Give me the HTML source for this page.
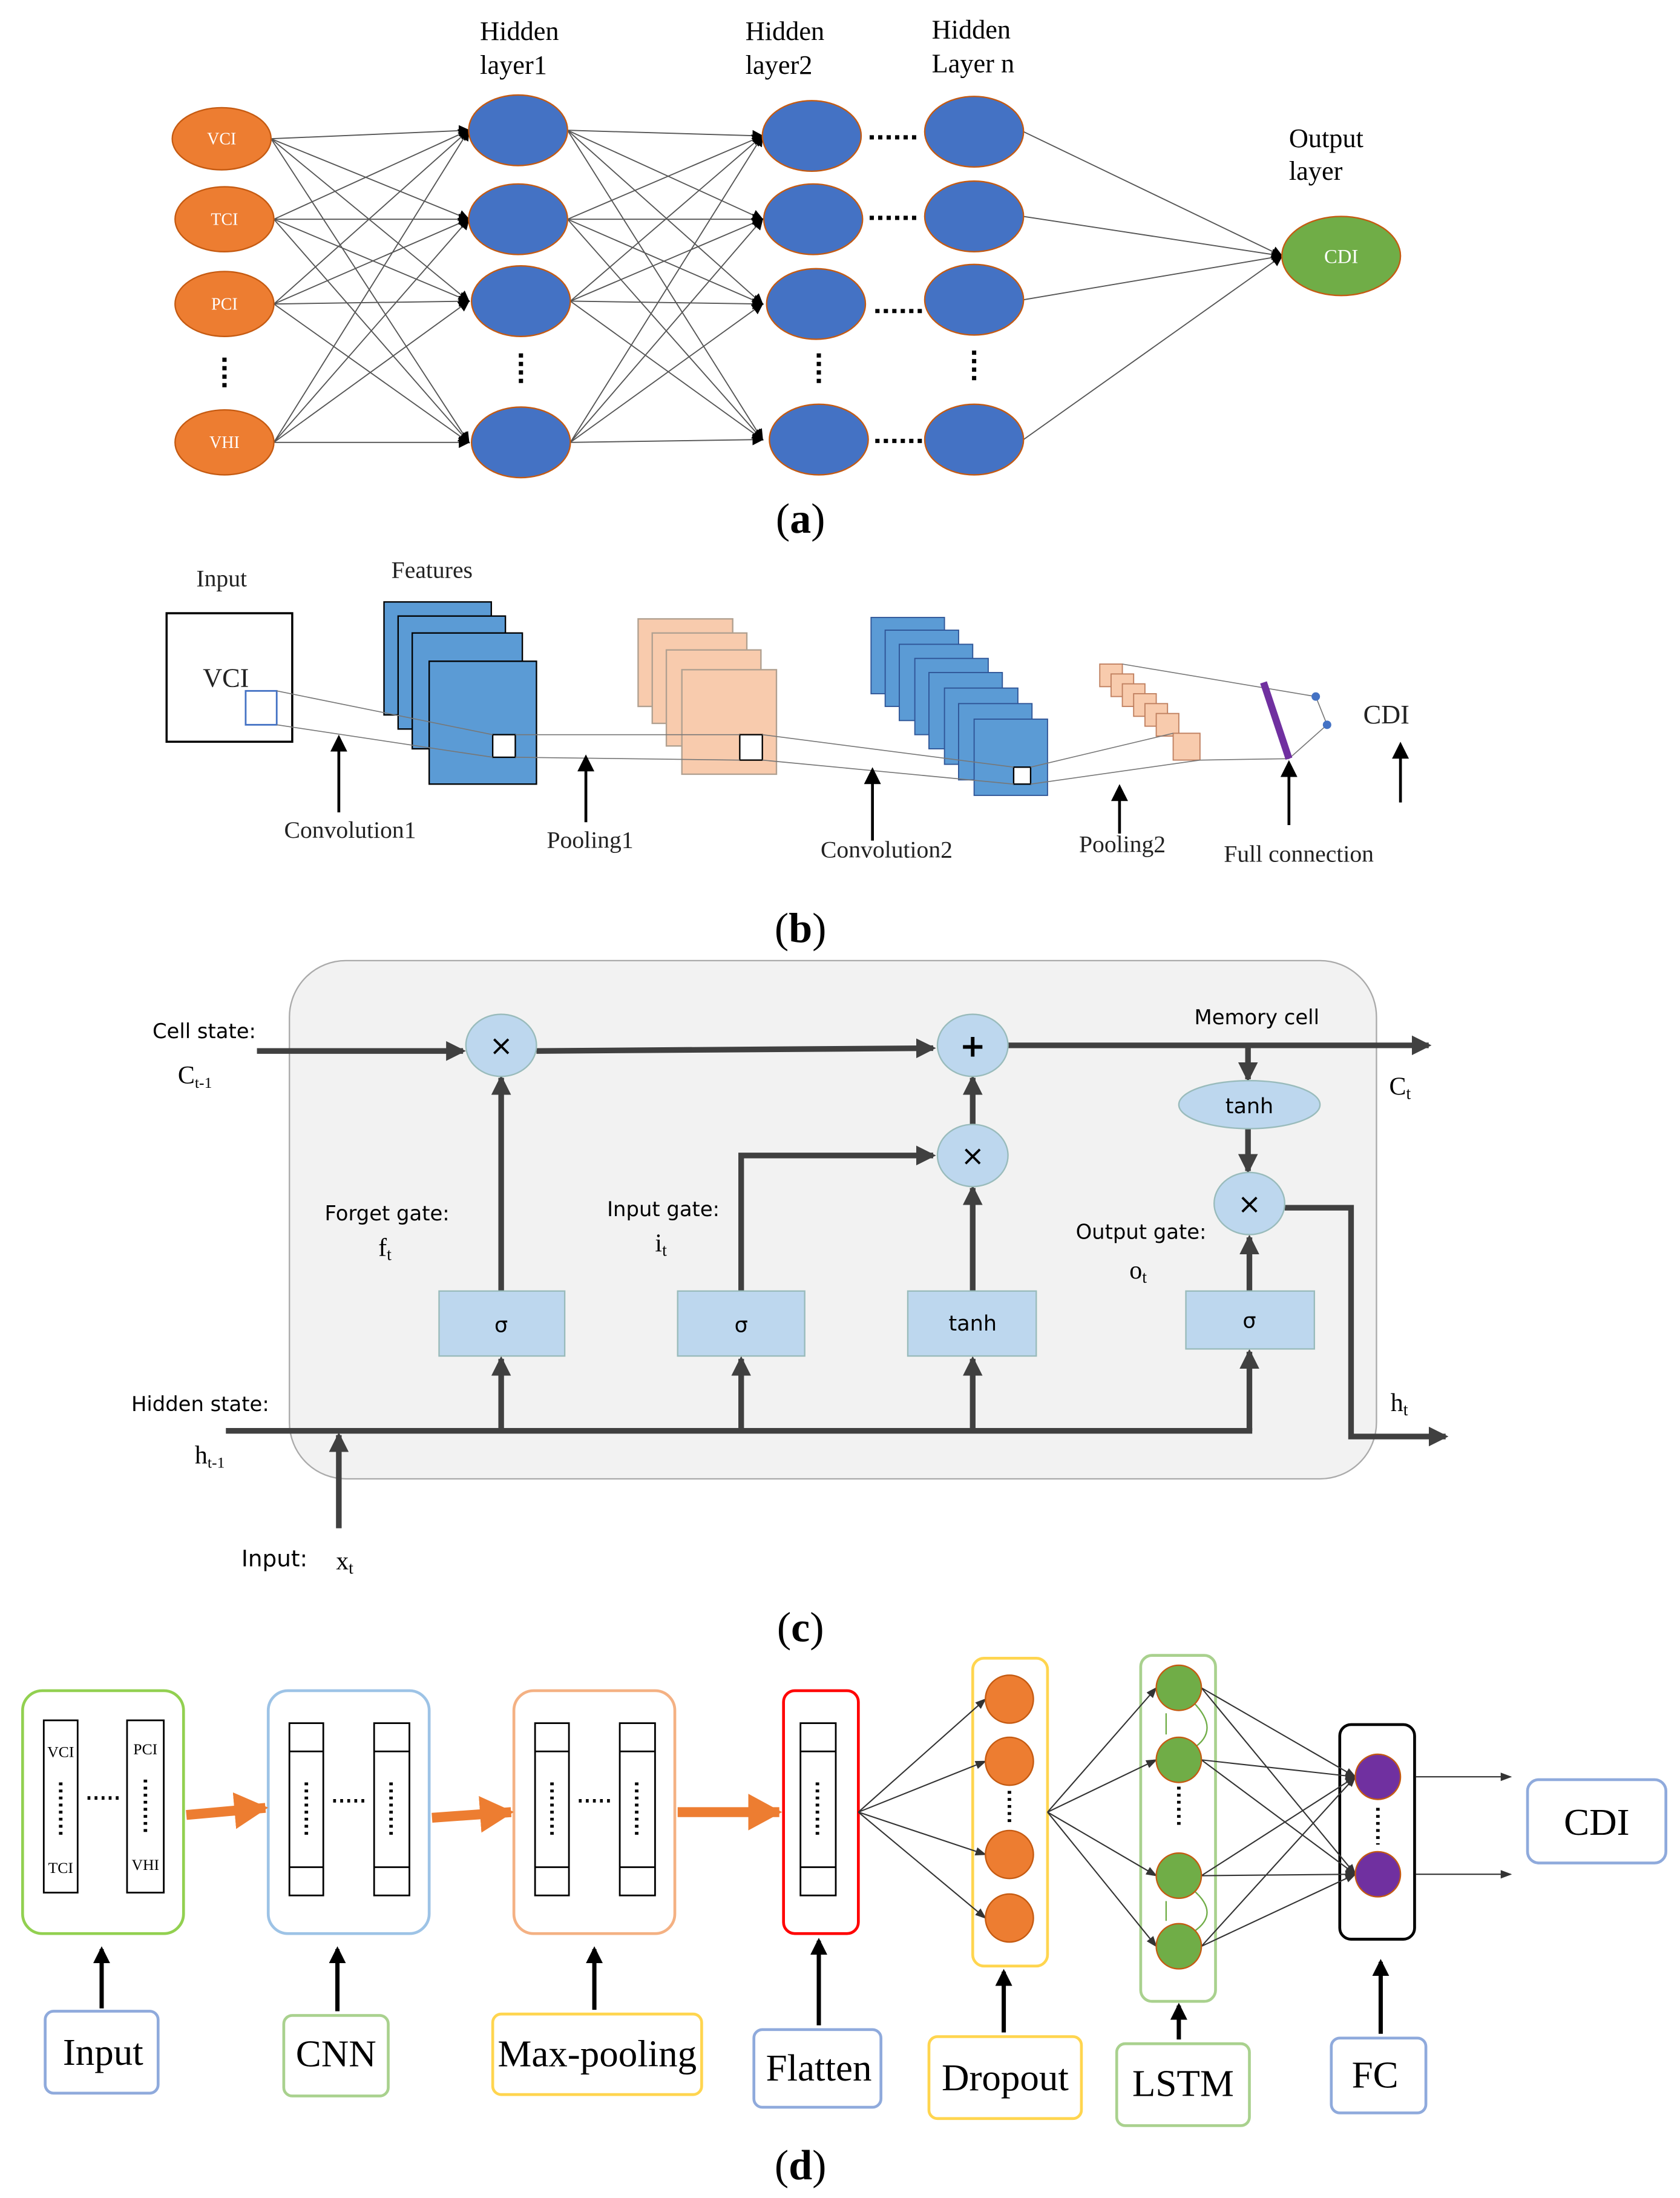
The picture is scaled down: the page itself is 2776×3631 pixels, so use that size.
<!DOCTYPE html>
<html><head><meta charset="utf-8"><style>
html,body{margin:0;padding:0;background:#fff;}
svg{display:block;}
</style></head><body>
<svg width="2776" height="3631" viewBox="0 0 1190 1556" xmlns="http://www.w3.org/2000/svg">
<defs>
<marker id="ah" markerWidth="8" markerHeight="8" refX="7" refY="4" orient="auto" markerUnits="userSpaceOnUse"><path d="M0,0 L8,4 L0,8 z" fill="#000"/></marker>
<marker id="ad" markerWidth="14" markerHeight="14" refX="12" refY="7" orient="auto" markerUnits="userSpaceOnUse"><path d="M0,0 L14,7 L0,14 z" fill="#404040"/></marker>
<marker id="ab" markerWidth="12" markerHeight="12" refX="10" refY="6" orient="auto" markerUnits="userSpaceOnUse"><path d="M0,0 L12,6 L0,12 z" fill="#000"/></marker>
<marker id="ao" markerWidth="26" markerHeight="26" refX="22" refY="13" orient="auto" markerUnits="userSpaceOnUse"><path d="M0,0 L24,13 L0,26 z" fill="#ed7d31"/></marker>
<marker id="as" markerWidth="8" markerHeight="8" refX="7" refY="4" orient="auto" markerUnits="userSpaceOnUse"><path d="M0,1 L8,4 L0,7 z" fill="#333"/></marker>
</defs>

<!-- ===== (a) ===== -->
<g stroke="#555" stroke-width="0.8" fill="none">
<!-- inputs (192) to H1 (332) -->
<g marker-end="url(#ah)">
<line x1="192" y1="98" x2="332" y2="92"/><line x1="192" y1="98" x2="332" y2="155"/><line x1="192" y1="98" x2="332" y2="213"/><line x1="192" y1="98" x2="332" y2="313"/>
<line x1="194" y1="155" x2="332" y2="92"/><line x1="194" y1="155" x2="332" y2="155"/><line x1="194" y1="155" x2="332" y2="213"/><line x1="194" y1="155" x2="332" y2="313"/>
<line x1="194" y1="215" x2="332" y2="92"/><line x1="194" y1="215" x2="332" y2="155"/><line x1="194" y1="215" x2="332" y2="213"/><line x1="194" y1="215" x2="332" y2="313"/>
<line x1="194" y1="313" x2="332" y2="92"/><line x1="194" y1="313" x2="332" y2="155"/><line x1="194" y1="313" x2="332" y2="213"/><line x1="194" y1="313" x2="332" y2="313"/>
<!-- H1 (402) to H2 (540) -->
<line x1="402" y1="92" x2="540" y2="96"/><line x1="402" y1="92" x2="540" y2="155"/><line x1="402" y1="92" x2="540" y2="215"/><line x1="402" y1="92" x2="540" y2="311"/>
<line x1="402" y1="155" x2="540" y2="96"/><line x1="402" y1="155" x2="540" y2="155"/><line x1="402" y1="155" x2="540" y2="215"/><line x1="402" y1="155" x2="540" y2="311"/>
<line x1="404" y1="213" x2="540" y2="96"/><line x1="404" y1="213" x2="540" y2="155"/><line x1="404" y1="213" x2="540" y2="215"/><line x1="404" y1="213" x2="540" y2="311"/>
<line x1="404" y1="313" x2="540" y2="96"/><line x1="404" y1="313" x2="540" y2="155"/><line x1="404" y1="313" x2="540" y2="215"/><line x1="404" y1="313" x2="540" y2="311"/>
<!-- Hn to CDI -->
<line x1="725" y1="93" x2="908" y2="181"/><line x1="725" y1="153" x2="908" y2="181"/><line x1="725" y1="212" x2="908" y2="181"/><line x1="725" y1="311" x2="908" y2="181"/>
</g>
</g>
<g fill="#ed7d31" stroke="#c55a11" stroke-width="1">
<ellipse cx="157" cy="98" rx="35" ry="22"/><ellipse cx="159" cy="155" rx="35" ry="23"/><ellipse cx="159" cy="215" rx="35" ry="23"/><ellipse cx="159" cy="313" rx="35" ry="23"/>
</g>
<g font-family="Liberation Serif,serif" font-size="12" fill="#fff" text-anchor="middle">
<text x="157" y="102">VCI</text><text x="159" y="159">TCI</text><text x="159" y="219">PCI</text><text x="159" y="317">VHI</text>
</g>
<g fill="#4472c4" stroke="#c55a11" stroke-width="1">
<ellipse cx="367" cy="92" rx="35" ry="25"/><ellipse cx="367" cy="155" rx="35" ry="25"/><ellipse cx="369" cy="213" rx="35" ry="25"/><ellipse cx="369" cy="313" rx="35" ry="25"/>
<ellipse cx="575" cy="96" rx="35" ry="25"/><ellipse cx="576" cy="155" rx="35" ry="25"/><ellipse cx="578" cy="215" rx="35" ry="25"/><ellipse cx="580" cy="311" rx="35" ry="25"/>
<ellipse cx="690" cy="93" rx="35" ry="25"/><ellipse cx="690" cy="153" rx="35" ry="25"/><ellipse cx="690" cy="212" rx="35" ry="25"/><ellipse cx="690" cy="311" rx="35" ry="25"/>
</g>
<g stroke="#000" stroke-width="3" stroke-dasharray="3,3">
<line x1="616" y1="97" x2="652" y2="97"/><line x1="616" y1="154" x2="652" y2="154"/><line x1="620" y1="220" x2="655" y2="220"/><line x1="620" y1="312" x2="655" y2="312"/>
<line x1="159" y1="253" x2="159" y2="277"/><line x1="369" y1="250" x2="369" y2="274"/><line x1="580" y1="250" x2="580" y2="274"/><line x1="690" y1="248" x2="690" y2="272"/>
</g>
<ellipse cx="950" cy="181" rx="42" ry="28" fill="#70ad47" stroke="#c55a11"/>
<text x="950" y="186" font-family="Liberation Serif,serif" font-size="14" fill="#fff" text-anchor="middle">CDI</text>
<g font-family="Liberation Serif,serif" font-size="19" fill="#000">
<text x="340" y="28">Hidden</text><text x="340" y="52">layer1</text>
<text x="528" y="28">Hidden</text><text x="528" y="52">layer2</text>
<text x="660" y="27">Hidden</text><text x="660" y="51">Layer n</text>
<text x="913" y="104">Output</text><text x="913" y="127">layer</text>
</g>
<g font-family="Liberation Serif,serif" font-size="30" text-anchor="middle" fill="#000">
<text x="567" y="377">(<tspan font-weight="bold">a</tspan>)</text>
<text x="567" y="667">(<tspan font-weight="bold">b</tspan>)</text>
<text x="567" y="1162">(<tspan font-weight="bold">c</tspan>)</text>
<text x="567" y="1543">(<tspan font-weight="bold">d</tspan>)</text>
</g>

<!-- ===== (b) ===== -->
<g font-family="Liberation Serif,serif" font-size="17" fill="#222" text-anchor="middle">
<text x="157" y="415">Input</text><text x="306" y="409">Features</text>
<text x="248" y="593">Convolution1</text><text x="418" y="600">Pooling1</text>
<text x="628" y="607">Convolution2</text><text x="795" y="603">Pooling2</text>
<text x="920" y="610">Full connection</text>
<text x="982" y="512" font-size="19">CDI</text>
<text x="160" y="486" font-size="19">VCI</text>
</g>
<rect x="118" y="434" width="89" height="91" fill="none" stroke="#000" stroke-width="1.5"/>
<rect x="174" y="489" width="22" height="24" fill="none" stroke="#4472c4" stroke-width="1.2"/>
<g fill="#5b9bd5" stroke="#000" stroke-width="1">
<rect x="272" y="426" width="76" height="80"/><rect x="282" y="436" width="76" height="80"/><rect x="292" y="448" width="78" height="82"/><rect x="304" y="468" width="76" height="87"/>
</g>
<rect x="349" y="520" width="16" height="16" fill="#fff" stroke="#000"/>
<g fill="#f8cbad" stroke="#b0a090" stroke-width="1">
<rect x="452" y="438" width="67" height="62"/><rect x="462" y="448" width="67" height="64"/><rect x="472" y="460" width="67" height="68"/><rect x="483" y="474" width="67" height="74"/>
</g>
<rect x="524" y="520" width="16" height="18" fill="#fff" stroke="#000"/>
<g fill="#5b9bd5" stroke="#2f5597" stroke-width="0.8">
<rect x="617" y="437" width="52" height="54"/><rect x="627" y="446" width="52" height="54"/><rect x="637" y="456" width="52" height="54"/><rect x="648" y="466" width="52" height="54"/>
<rect x="658" y="476" width="52" height="54"/><rect x="669" y="487" width="52" height="54"/><rect x="679" y="498" width="52" height="54"/><rect x="690" y="509" width="52" height="54"/>
</g>
<rect x="718" y="543" width="12" height="12" fill="#fff" stroke="#000"/>
<g fill="#f8cbad" stroke="#c08060" stroke-width="0.8">
<rect x="779" y="470" width="16" height="16"/><rect x="787" y="477" width="16" height="16"/><rect x="795" y="484" width="16" height="16"/><rect x="803" y="491" width="16" height="16"/><rect x="811" y="498" width="16" height="16"/><rect x="819" y="505" width="16" height="16"/><rect x="831" y="519" width="19" height="19"/>
</g>
<g stroke="#777" stroke-width="0.7" fill="none">
<line x1="196" y1="489" x2="349" y2="520"/><line x1="196" y1="513" x2="349" y2="536"/>
<line x1="365" y1="520" x2="524" y2="520"/><line x1="365" y1="536" x2="524" y2="538"/>
<line x1="540" y1="520" x2="718" y2="543"/><line x1="540" y1="538" x2="718" y2="555"/>
<line x1="730" y1="543" x2="831" y2="519"/><line x1="730" y1="555" x2="850" y2="538"/>
<line x1="795" y1="470" x2="932" y2="493"/><line x1="850" y1="538" x2="913" y2="537"/>
<line x1="932" y1="493" x2="940" y2="513"/><line x1="940" y1="513" x2="913" y2="537"/>
</g>
<line x1="895" y1="483" x2="913" y2="537" stroke="#7030a0" stroke-width="5"/>
<circle cx="932" cy="493" r="3" fill="#4472c4"/><circle cx="940" cy="513" r="3" fill="#4472c4"/>
<g stroke="#000" stroke-width="2" marker-end="url(#ab)">
<line x1="240" y1="575" x2="240" y2="522"/><line x1="415" y1="582" x2="415" y2="536"/><line x1="618" y1="595" x2="618" y2="545"/>
<line x1="793" y1="590" x2="793" y2="557"/><line x1="913" y1="584" x2="913" y2="540"/><line x1="992" y1="568" x2="992" y2="527"/>
</g>

<!-- ===== (c) ===== -->
<rect x="205" y="680" width="770" height="367" rx="40" fill="#f2f2f2" stroke="#aaa" stroke-width="1"/>
<g stroke="#404040" stroke-width="4" fill="none">
<line x1="182" y1="744" x2="328" y2="744" marker-end="url(#ad)"/>
<line x1="380" y1="744" x2="661" y2="742" marker-end="url(#ad)"/>
<line x1="714" y1="740" x2="1012" y2="740" marker-end="url(#ad)"/>
<line x1="884" y1="742" x2="884" y2="764" marker-end="url(#ad)"/>
<line x1="884" y1="799" x2="884" y2="829" marker-end="url(#ad)"/>
<polyline points="910,855 957,855 957,1017 1024,1017" marker-end="url(#ad)"/>
<line x1="160" y1="1013" x2="887" y2="1013"/>
<line x1="355" y1="1013" x2="355" y2="962" marker-end="url(#ad)"/>
<line x1="525" y1="1013" x2="525" y2="962" marker-end="url(#ad)"/>
<line x1="689" y1="1013" x2="689" y2="962" marker-end="url(#ad)"/>
<line x1="885" y1="1013" x2="885" y2="957" marker-end="url(#ad)"/>
<line x1="355" y1="914" x2="355" y2="763" marker-end="url(#ad)"/>
<polyline points="525,914 525,818 661,818" marker-end="url(#ad)"/>
<line x1="689" y1="914" x2="689" y2="841" marker-end="url(#ad)"/>
<line x1="689" y1="796" x2="689" y2="763" marker-end="url(#ad)"/>
<line x1="885" y1="914" x2="885" y2="876" marker-end="url(#ad)"/>
<line x1="240" y1="1082" x2="240" y2="1016" marker-end="url(#ad)"/>
</g>
<g fill="#bdd7ee" stroke="#9bb" stroke-width="1">
<ellipse cx="355" cy="740" rx="25" ry="22"/><ellipse cx="689" cy="740" rx="25" ry="22"/><ellipse cx="689" cy="818" rx="25" ry="22"/><ellipse cx="885" cy="852" rx="25" ry="22"/>
<ellipse cx="885" cy="782" rx="50" ry="17"/>
<rect x="311" y="914" width="89" height="46"/><rect x="480" y="914" width="90" height="46"/><rect x="643" y="914" width="91" height="46"/><rect x="840" y="914" width="91" height="41"/>
</g>
<g font-family="DejaVu Sans,sans-serif" font-size="15" fill="#000" text-anchor="middle">
<text x="355" y="747" font-size="20">×</text><text x="689" y="748" font-size="22" font-weight="bold">+</text><text x="689" y="825" font-size="20">×</text><text x="885" y="859" font-size="20">×</text>
<text x="885" y="788">tanh</text>
<text x="355" y="943">σ</text><text x="525" y="943">σ</text><text x="689" y="942">tanh</text><text x="885" y="940">σ</text>
</g>
<g font-family="DejaVu Sans,sans-serif" font-size="14.5" fill="#000">
<text x="108" y="735">Cell state:</text>
<text x="846" y="725">Memory cell</text>
<text x="230" y="864">Forget gate:</text>
<text x="430" y="861">Input gate:</text>
<text x="762" y="877">Output gate:</text>
<text x="93" y="999">Hidden state:</text>
<text x="171" y="1109" font-size="16">Input:</text>
</g>
<g font-family="Liberation Serif,serif" font-size="18" fill="#000">
<text x="126" y="767">C<tspan font-size="11" dy="3">t-1</tspan></text>
<text x="984" y="775">C<tspan font-size="12" dy="3">t</tspan></text>
<text x="268" y="889">f<tspan font-size="12" dy="3">t</tspan></text>
<text x="464" y="886">i<tspan font-size="12" dy="3">t</tspan></text>
<text x="800" y="905">o<tspan font-size="12" dy="3">t</tspan></text>
<text x="985" y="999">h<tspan font-size="12" dy="3">t</tspan></text>
<text x="138" y="1036">h<tspan font-size="11" dy="3">t-1</tspan></text>
<text x="238" y="1111">x<tspan font-size="12" dy="3">t</tspan></text>
</g>

<!-- ===== (d) ===== -->
<g fill="none" stroke-width="2">
<rect x="16" y="1197" width="114" height="172" rx="14" stroke="#92d050"/>
<rect x="190" y="1197" width="114" height="172" rx="14" stroke="#9dc3e6"/>
<rect x="364" y="1197" width="114" height="172" rx="14" stroke="#f4b183"/>
<rect x="555" y="1197" width="53" height="172" rx="8" stroke="#ff0000"/>
<rect x="689" y="1174" width="53" height="218" rx="8" stroke="#ffd54f"/>
<rect x="808" y="1172" width="53" height="245" rx="8" stroke="#a9d18e"/>
<rect x="949" y="1221" width="53" height="152" rx="8" stroke="#000"/>
<rect x="1082" y="1260" width="98" height="59" rx="8" stroke="#8faadc"/>
<rect x="32" y="1424" width="80" height="58" rx="6" stroke="#8faadc"/>
<rect x="201" y="1427" width="74" height="57" rx="6" stroke="#a9d18e"/>
<rect x="349" y="1426" width="148" height="57" rx="6" stroke="#ffd54f"/>
<rect x="534" y="1437" width="90" height="55" rx="6" stroke="#8faadc"/>
<rect x="658" y="1442" width="108" height="58" rx="6" stroke="#ffd54f"/>
<rect x="791" y="1447" width="94" height="58" rx="6" stroke="#a9d18e"/>
<rect x="943" y="1443" width="67" height="53" rx="6" stroke="#8faadc"/>
</g>
<g fill="none" stroke="#000" stroke-width="1.2">
<rect x="31" y="1218" width="24" height="122"/><rect x="90" y="1218" width="26" height="122"/>
<rect x="205" y="1220" width="24" height="122"/><rect x="265" y="1220" width="25" height="122"/>
<rect x="379" y="1220" width="24" height="122"/><rect x="439" y="1220" width="25" height="122"/>
<rect x="567" y="1220" width="25" height="122"/>
<line x1="205" y1="1240" x2="229" y2="1240"/><line x1="205" y1="1322" x2="229" y2="1322"/>
<line x1="265" y1="1240" x2="290" y2="1240"/><line x1="265" y1="1322" x2="290" y2="1322"/>
<line x1="379" y1="1240" x2="403" y2="1240"/><line x1="379" y1="1322" x2="403" y2="1322"/>
<line x1="439" y1="1240" x2="464" y2="1240"/><line x1="439" y1="1322" x2="464" y2="1322"/>
<line x1="567" y1="1240" x2="592" y2="1240"/><line x1="567" y1="1322" x2="592" y2="1322"/>
</g>
<g stroke="#000" stroke-width="2.5" stroke-dasharray="2,3">
<line x1="43" y1="1262" x2="43" y2="1300"/><line x1="103" y1="1260" x2="103" y2="1300"/><line x1="62" y1="1273" x2="86" y2="1273"/>
<line x1="217" y1="1262" x2="217" y2="1300"/><line x1="277" y1="1262" x2="277" y2="1300"/><line x1="236" y1="1275" x2="260" y2="1275"/>
<line x1="391" y1="1262" x2="391" y2="1300"/><line x1="451" y1="1262" x2="451" y2="1300"/><line x1="410" y1="1275" x2="434" y2="1275"/>
<line x1="579" y1="1262" x2="579" y2="1300"/>
<line x1="715" y1="1268" x2="715" y2="1293"/><line x1="835" y1="1265" x2="835" y2="1295"/><line x1="976" y1="1280" x2="976" y2="1306"/>
</g>
<g font-family="Liberation Serif,serif" font-size="11" fill="#000" text-anchor="middle">
<text x="43" y="1244">VCI</text><text x="43" y="1326">TCI</text><text x="103" y="1242">PCI</text><text x="103" y="1324">VHI</text>
</g>
<g stroke="#ed7d31" stroke-width="7">
<line x1="132" y1="1285" x2="188" y2="1280" marker-end="url(#ao)"/>
<line x1="306" y1="1287" x2="362" y2="1283" marker-end="url(#ao)"/>
<line x1="480" y1="1283" x2="552" y2="1283" marker-end="url(#ao)"/>
</g>
<g stroke="#333" stroke-width="0.9" marker-end="url(#as)">
<line x1="608" y1="1283" x2="698" y2="1203"/><line x1="608" y1="1283" x2="698" y2="1247"/><line x1="608" y1="1283" x2="698" y2="1313"/><line x1="608" y1="1283" x2="698" y2="1358"/>
<line x1="742" y1="1283" x2="819" y2="1195"/><line x1="742" y1="1283" x2="819" y2="1246"/><line x1="742" y1="1283" x2="819" y2="1328"/><line x1="742" y1="1283" x2="819" y2="1378"/>
<line x1="851" y1="1195" x2="960" y2="1258"/><line x1="851" y1="1195" x2="960" y2="1327"/>
<line x1="851" y1="1246" x2="960" y2="1258"/><line x1="851" y1="1246" x2="960" y2="1327"/>
<line x1="851" y1="1328" x2="960" y2="1258"/><line x1="851" y1="1328" x2="960" y2="1327"/>
<line x1="851" y1="1378" x2="960" y2="1258"/><line x1="851" y1="1378" x2="960" y2="1327"/>
<line x1="1003" y1="1258" x2="1070" y2="1258"/><line x1="1003" y1="1327" x2="1070" y2="1327"/>
</g>
<g fill="#ed7d31" stroke="#c55a11">
<circle cx="715" cy="1203" r="17"/><circle cx="715" cy="1247" r="17"/><circle cx="715" cy="1313" r="17"/><circle cx="715" cy="1358" r="17"/>
</g>
<g fill="none" stroke="#70ad47" stroke-width="1">
<path d="M845,1205 Q865,1225 845,1238"/><path d="M845,1338 Q865,1355 845,1368"/>
<path d="M826,1213 L826,1228"/><path d="M826,1346 L826,1360"/>
</g>
<g fill="#70ad47" stroke="#c55a11">
<circle cx="835" cy="1195" r="16"/><circle cx="835" cy="1246" r="16"/><circle cx="835" cy="1328" r="16"/><circle cx="835" cy="1378" r="16"/>
</g>
<g fill="#7030a0" stroke="#c55a11">
<circle cx="976" cy="1258" r="16"/><circle cx="976" cy="1327" r="16"/>
</g>
<g stroke="#000" stroke-width="3" marker-end="url(#ab)">
<line x1="72" y1="1422" x2="72" y2="1380"/><line x1="239" y1="1424" x2="239" y2="1380"/><line x1="421" y1="1423" x2="421" y2="1380"/>
<line x1="580" y1="1434" x2="580" y2="1374"/><line x1="711" y1="1439" x2="711" y2="1396"/><line x1="835" y1="1444" x2="835" y2="1420"/>
<line x1="978" y1="1440" x2="978" y2="1389"/>
</g>
<g font-family="Liberation Serif,serif" font-size="27" fill="#000" text-anchor="middle">
<text x="73" y="1462">Input</text><text x="238" y="1463">CNN</text><text x="423" y="1463">Max-pooling</text>
<text x="580" y="1473">Flatten</text><text x="712" y="1480">Dropout</text><text x="838" y="1484">LSTM</text>
<text x="974" y="1478">FC</text><text x="1131" y="1299">CDI</text>
</g>
</svg>
</body></html>
